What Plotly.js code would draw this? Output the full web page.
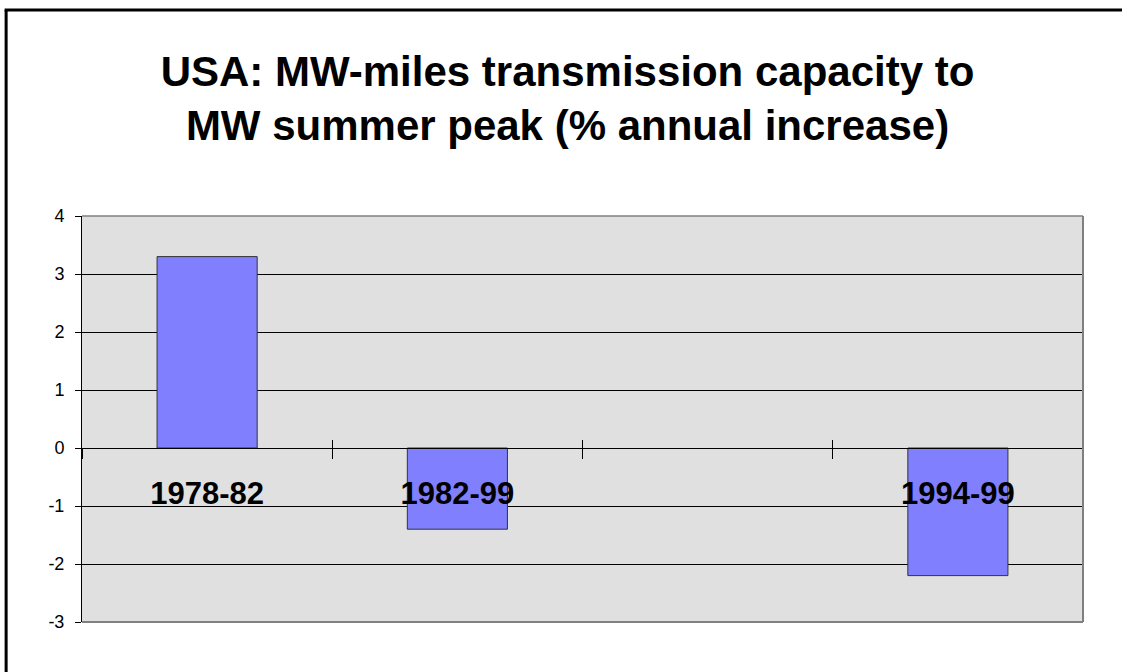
<!DOCTYPE html>
<html>
<head>
<meta charset="utf-8">
<script src="https://cdn.plot.ly/plotly-3.0.1.min.js"></script>
<style>html,body{margin:0;padding:0;background:#fff;}#chart{width:1122px;height:672px;}</style>
</head>
<body>
<div id="chart"></div>
<script>
const categories = ['1978-82', '1982-99', ' ', '1994-99'];
const values = [3.3, -1.4, null, -2.2];
const yTicks = [-3, -2, -1, 0, 1, 2, 3, 4];

const FONT = '"Liberation Sans", Arial, sans-serif';
const zeroPos = 3 / 7;

const traces = [
  {
    type: 'bar', x: categories, y: values, xaxis: 'x', yaxis: 'y',
    width: 0.4,
    marker: {color: '#8080FF', line: {color: '#333333', width: 1}},
    hoverinfo: 'x+y', showlegend: false
  },
  {
    type: 'bar', x: categories, y: categories.map(() => null), xaxis: 'x2', yaxis: 'y',
    hoverinfo: 'skip', showlegend: false
  }
];

const catAxisBase = {
  type: 'category', categoryorder: 'array', categoryarray: categories,
  range: [-0.5, categories.length - 0.5],
  anchor: 'free', position: zeroPos,
  tickson: 'boundaries', showgrid: false, zeroline: false,
  tickcolor: '#000', tickwidth: 1, fixedrange: true
};

const layout = {
  width: 1122, height: 672,
  margin: {l: 82, r: 39, t: 216, b: 50},
  paper_bgcolor: '#ffffff',
  plot_bgcolor: '#E0E0E0',
  font: {family: FONT, color: '#000'},
  title: {
    text: 'USA: MW-miles transmission capacity to<br>MW summer peak (% annual increase)',
    font: {family: FONT, size: 42, weight: 700, color: '#000'},
    xref: 'container', x: 0.5058, xanchor: 'center',
    yref: 'container', y: 0.8725, yanchor: 'top'
  },
  xaxis: Object.assign({}, catAxisBase, {
    ticks: 'outside', ticklen: 10,
    showline: true, linecolor: '#000', linewidth: 1,
    showticklabels: true,
    tickfont: {family: FONT, size: 31, weight: 700, color: '#000'},
    ticklabelstandoff: 18
  }),
  xaxis2: Object.assign({}, catAxisBase, {
    overlaying: 'x',
    ticks: 'inside', ticklen: 8,
    showline: false, showticklabels: false
  }),
  yaxis: {
    range: [-3, 4], tickvals: yTicks, ticktext: yTicks.map(String),
    showgrid: true, gridcolor: '#000', gridwidth: 1,
    zeroline: false,
    showline: true, linecolor: '#000', linewidth: 1,
    ticks: 'outside', ticklen: 6, tickcolor: '#000',
    tickfont: {family: FONT, size: 18, color: '#000'},
    ticklabelstandoff: 7, fixedrange: true
  },
  shapes: [
    {type: 'line', xref: 'paper', yref: 'paper', x0: 0, x1: 1, y0: 1, y1: 1, line: {color: '#808080', width: 1.5}},
    {type: 'line', xref: 'paper', yref: 'paper', x0: 1, x1: 1, y0: 0, y1: 1, line: {color: '#808080', width: 2}},
    {type: 'line', xref: 'paper', yref: 'paper', x0: 0, x1: 1, y0: 0, y1: 0, line: {color: '#808080', width: 2}},
    {type: 'line', xref: 'paper', yref: 'paper', x0: -0.0758, x1: -0.0758, y0: -0.13, y1: 1.5074, line: {color: '#000', width: 3}},
    {type: 'line', xref: 'paper', yref: 'paper', x0: -0.0773, x1: 1.05, y0: 1.5074, y1: 1.5074, line: {color: '#000', width: 3}}
  ],
  showlegend: false,
  bargap: 0.6
};

Plotly.newPlot('chart', traces, layout, {displayModeBar: false, staticPlot: true});
</script>
</body>
</html>
